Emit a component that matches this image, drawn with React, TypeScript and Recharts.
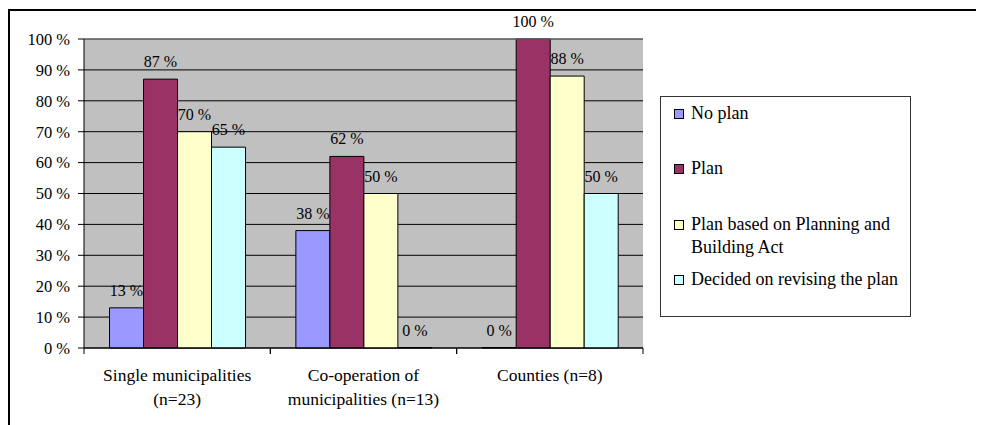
import { BarChart, Bar, XAxis, YAxis, CartesianGrid, LabelList, ReferenceLine } from "recharts";

const categories = ["single", "coop", "counties"];
const categoryLines = [
  ["Single municipalities", "(n=23)"],
  ["Co-operation of", "municipalities (n=13)"],
  ["Counties (n=8)"],
];
const noPlan = [13, 38, 0];
const plan = [87, 62, 100];
const planPBA = [70, 50, 88];
const revising = [65, 0, 50];
const yTicks = [0, 10, 20, 30, 40, 50, 60, 70, 80, 90, 100];

const SERIES = [
  { key: "noPlan", label: "No plan", color: "#9999FF" },
  { key: "plan", label: "Plan", color: "#993366" },
  { key: "planPBA", label: "Plan based on Planning and Building Act", color: "#FFFFCC" },
  { key: "revising", label: "Decided on revising the plan", color: "#CCFFFF" },
] as const;

const data = categories.map((c, i) => ({
  name: c,
  noPlan: noPlan[i],
  plan: plan[i],
  planPBA: planPBA[i],
  revising: revising[i],
}));

const FONT = '"Liberation Serif", "DejaVu Serif", "Times New Roman", Times, serif';
const PLOT_W = 976 - 76 - 341;
const BAND = PLOT_W / categories.length;

// eslint-disable-next-line @typescript-eslint/no-explicit-any
function CategoryTick({ x, y, index }: any) {
  const lines = categoryLines[index] ?? [];
  return (
    <g>
      <line x1={x - BAND / 2} x2={x - BAND / 2} y1={y} y2={y + 6} stroke="#000" />
      <line x1={x + BAND / 2} x2={x + BAND / 2} y1={y} y2={y + 6} stroke="#000" />
      {lines.map((t: string, i: number) => (
        <text key={i} x={x} y={y + 33 + i * 24} textAnchor="middle" fontSize={17.5} fontFamily={FONT} fill="#000">
          {t}
        </text>
      ))}
    </g>
  );
}

// eslint-disable-next-line @typescript-eslint/no-explicit-any
function BarValue({ x, y, width, value }: any) {
  if (x == null || y == null) return null;
  return (
    <text x={x + width / 2} y={y - 12} textAnchor="middle" fontSize={16} fontFamily={FONT} fill="#000">
      {`${value} %`}
    </text>
  );
}

function LegendBox() {
  return (
    <div
      style={{
        position: "absolute",
        left: 652,
        top: 88,
        width: 249,
        height: 214,
        border: "1px solid #333",
        background: "#fff",
        fontFamily: FONT,
        fontSize: 18,
        lineHeight: "23px",
        paddingTop: 5,
      }}
    >
      {SERIES.map((s) => (
        <div key={s.key} style={{ display: "flex", height: 55.3, alignItems: "flex-start" }}>
          <span
            style={{
              display: "inline-block",
              width: 8,
              height: 8,
              border: "1px solid #000",
              background: s.color,
              marginLeft: 13,
              marginTop: 7,
              flex: "none",
            }}
          />
          <span style={{ marginLeft: 7, width: 222, color: "#000" }}>{s.label}</span>
        </div>
      ))}
    </div>
  );
}

export default function App() {
  return (
    <div style={{ position: "relative", width: 976, height: 417 }}>
      <div
        style={{
          position: "absolute",
          left: 0,
          top: 1,
          width: 976,
          height: 416,
          borderTop: "2px solid #000",
          borderLeft: "2px solid #000",
          boxSizing: "border-box",
        }}
      />
      <BarChart
        width={976}
        height={417}
        data={data}
        margin={{ top: 31, right: 341, bottom: 17, left: 0 }}
        barCategoryGap="13.7%"
        barGap={0}
        style={{ position: "absolute", left: 0, top: 0 }}
      >
        <CartesianGrid vertical={false} stroke="#000" fill="#C0C0C0" fillOpacity={1} />
        <XAxis
          dataKey="name"
          height={60}
          axisLine={{ stroke: "#000" }}
          tickLine={false}
          tickSize={0}
          tickMargin={0}
          tick={<CategoryTick />}
          interval={0}
        />
        <YAxis
          width={76}
          domain={[0, 100]}
          ticks={yTicks}
          interval={0}
          tickFormatter={(v) => `${v}\u00a0%`}
          axisLine={{ stroke: "#000" }}
          tickLine={{ stroke: "#000" }}
          tickSize={6}
          tickMargin={8}
          tick={{ fill: "#000", fontSize: 16.5, fontFamily: FONT }}
        />
        <YAxis
          yAxisId="right"
          orientation="right"
          width={0}
          domain={[0, 100]}
          tick={false}
          tickLine={false}
          axisLine={{ stroke: "#808080" }}
        />
        <ReferenceLine y={100} stroke="#808080" />
        {SERIES.map((s) => (
          <Bar
            key={s.key}
            dataKey={s.key}
            fill={s.color}
            stroke="#000"
            strokeWidth={1}
            minPointSize={0.5}
            isAnimationActive={false}
          >
            <LabelList dataKey={s.key} content={<BarValue />} />
          </Bar>
        ))}
      </BarChart>
      <LegendBox />
    </div>
  );
}
